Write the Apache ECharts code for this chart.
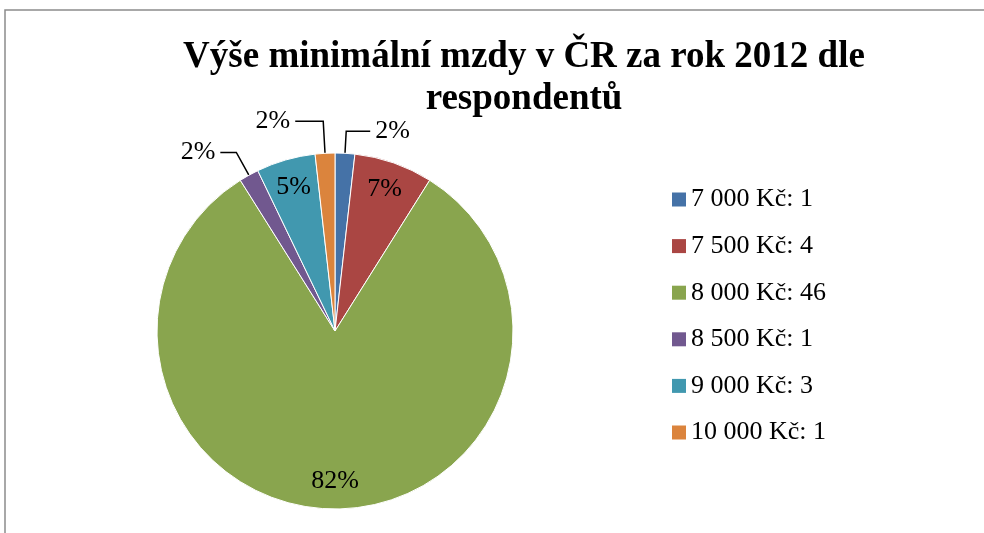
<!DOCTYPE html>
<html>
<head>
<meta charset="utf-8">
<script src="https://cdn.jsdelivr.net/npm/echarts@6/dist/echarts.min.js"></script>
<style>
  html, body { margin: 0; padding: 0; background: #fff; }
  #main { width: 984px; height: 533px; }
</style>
</head>
<body>
<div id="main"></div>
<script>
// data
var categories = ['7 000 Kč', '7 500 Kč', '8 000 Kč', '8 500 Kč', '9 000 Kč', '10 000 Kč'];
var counts = [1, 4, 46, 1, 3, 1];
var colors = ['#4572A7', '#AA4643', '#89A54E', '#71588F', '#4198AF', '#DB843D'];
var titleText = 'Výše minimální mzdy v ČR za rok 2012 dle\nrespondentů';

var serif = "'Liberation Serif', 'Times New Roman', serif";
var total = counts.reduce(function (a, b) { return a + b; }, 0);
var center = [335, 331];

// délky vodicích čar pro malé výseče (podle indexu)
var leaderLines = {
  0: { length: 22, length2: 24 },
  3: { length: 26, length2: 16 },
  5: { length: 32, length2: 28 }
};

function isSmall(v) { return v / total < 0.03; }

// hlavní koláč - malé výseče mají popisky venku
var mainData = categories.map(function (name, i) {
  var small = isSmall(counts[i]);
  var ll = leaderLines[i] || {};
  return {
    name: name,
    value: counts[i],
    itemStyle: { color: colors[i] },
    label: { show: small },
    labelLine: { show: small, length: ll.length, length2: ll.length2 }
  };
});

// průhledná vrstva jen pro vnitřní popisky (blíž k okraji)
var innerData = categories.map(function (name, i) {
  return {
    name: name,
    value: counts[i],
    label: { show: !isSmall(counts[i]) }
  };
});

var myChart = echarts.init(document.getElementById('main'));

var option = {
  animation: false,
  color: colors,
  title: {
    text: titleText,
    left: 524,
    top: 36,
    textAlign: 'center',
    padding: 0,
    textStyle: {
      fontFamily: serif,
      fontSize: 37,
      fontWeight: 'bold',
      color: '#000',
      lineHeight: 42
    }
  },
  legend: {
    orient: 'vertical',
    left: 672,
    top: 186.5,
    padding: 0,
    itemWidth: 14,
    itemHeight: 14,
    itemGap: 20.6,
    itemTextGap: 6,
    icon: 'rect',
    itemStyle: { borderWidth: 0 },
    data: categories,
    formatter: function (name) {
      return name + ': ' + counts[categories.indexOf(name)];
    },
    textStyle: {
      fontFamily: serif,
      fontSize: 26,
      color: '#000',
      lineHeight: 26
    }
  },
  graphic: [{
    type: 'rect',
    shape: { x: 5, y: 10, width: 1200, height: 700 },
    style: { fill: 'none', stroke: '#8c8c8c', lineWidth: 1.5 },
    silent: true
  }],
  series: [
    {
      type: 'pie',
      center: center,
      radius: 178,
      startAngle: 90,
      clockwise: true,
      percentPrecision: 0,
      avoidLabelOverlap: false,
      itemStyle: { borderColor: '#fff', borderWidth: 1 },
      label: {
        position: 'outside',
        formatter: '{d}%',
        fontFamily: serif,
        fontSize: 26,
        color: '#000',
        padding: [0, 0, 24, 0]
      },
      labelLine: {
        smooth: false,
        lineStyle: { color: '#000', width: 1.5 }
      },
      emphasis: { disabled: true },
      data: mainData
    },
    {
      type: 'pie',
      center: center,
      radius: [116, 178],
      startAngle: 90,
      clockwise: true,
      percentPrecision: 0,
      silent: true,
      legendHoverLink: false,
      itemStyle: { color: 'rgba(0,0,0,0)', borderWidth: 0 },
      label: {
        position: 'inside',
        formatter: '{d}%',
        fontFamily: serif,
        fontSize: 26,
        color: '#000'
      },
      labelLine: { show: false },
      emphasis: { disabled: true },
      data: innerData
    }
  ]
};

myChart.setOption(option);
</script>
</body>
</html>
